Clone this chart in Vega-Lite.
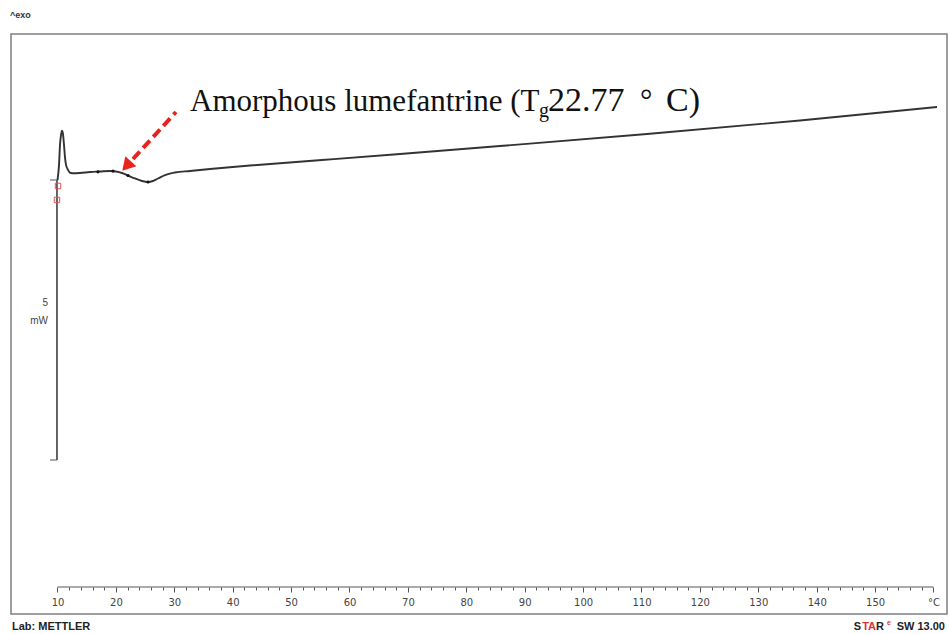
{
  "$schema": "https://vega.github.io/schema/vega-lite/v6.json",
  "width": 936,
  "height": 580,
  "autosize": {"type": "none"},
  "padding": {"left": 11, "top": 34, "right": 2, "bottom": 20},
  "background": "white",
  "config": {
    "view": {"stroke": "#808080", "strokeWidth": 1.5}
  },
  "encoding": {
    "x": {
      "field": "T", "type": "quantitative", "title": null,
      "scale": {"domain": [2.0377, 162.312], "nice": false, "zero": false},
      "axis": {
        "orient": "bottom", "offset": -27,
        "values": [10,12,14,16,18,20,22,24,26,28,30,32,34,36,38,40,42,44,46,48,50,52,54,56,58,60,62,64,66,68,70,72,74,76,78,80,82,84,86,88,90,92,94,96,98,100,102,104,106,108,110,112,114,116,118,120,122,124,126,128,130,132,134,136,138,140,142,144,146,148,150,152,154,156,158,160],
        "domain": false, "grid": false,
        "tickColor": "#555", "tickWidth": 1,
        "tickSize": {"condition": {"test": "datum.value % 10 === 0", "value": 5}, "value": 3},
        "labelExpr": "datum.value === 160 ? '°C' : (datum.value % 10 === 0 ? datum.label : '')",
        "labelFont": "DejaVu Sans", "labelFontSize": 10, "labelColor": "#444",
        "labelPadding": 5, "labelFlush": false, "labelOverlap": false
      }
    },
    "y": {
      "field": "mW", "type": "quantitative", "title": null,
      "scale": {"domain": [0, 10.357], "nice": false, "zero": false},
      "axis": null
    }
  },
  "layer": [
    {
      "data": {"values": [{"T": 10, "T2": 160, "mW": 0.4821}]},
      "mark": {"type": "rule", "color": "#555", "strokeWidth": 1},
      "encoding": {"x2": {"field": "T2"}}
    },
    {
      "data": {"values": [{"T": 9.91, "mW": 2.75, "mW2": 7.75}]},
      "mark": {"type": "rule", "color": "#333", "strokeWidth": 1.5},
      "encoding": {"y2": {"field": "mW2"}}
    },
    {
      "data": {"values": [{"T": 8.72, "T2": 9.91, "mW": 7.75}, {"T": 8.72, "T2": 9.91, "mW": 2.75}]},
      "mark": {"type": "rule", "color": "#555", "strokeWidth": 1},
      "encoding": {"x2": {"field": "T2"}}
    },
    {
      "data": {"values": [
        {"T": 10.0, "mW": 7.75},
        {"T": 10.26, "mW": 8.02},
        {"T": 10.43, "mW": 8.38},
        {"T": 10.6, "mW": 8.55},
        {"T": 10.77, "mW": 8.63},
        {"T": 10.94, "mW": 8.57},
        {"T": 11.11, "mW": 8.38},
        {"T": 11.28, "mW": 8.16},
        {"T": 11.46, "mW": 8.02},
        {"T": 11.8, "mW": 7.93},
        {"T": 12.14, "mW": 7.88},
        {"T": 12.83, "mW": 7.87},
        {"T": 13.85, "mW": 7.875},
        {"T": 15.57, "mW": 7.893},
        {"T": 17.28, "mW": 7.902},
        {"T": 18.99, "mW": 7.911},
        {"T": 20.02, "mW": 7.902},
        {"T": 21.05, "mW": 7.875},
        {"T": 22.07, "mW": 7.83},
        {"T": 23.27, "mW": 7.777},
        {"T": 24.47, "mW": 7.732},
        {"T": 25.5, "mW": 7.714},
        {"T": 26.35, "mW": 7.732},
        {"T": 27.21, "mW": 7.777},
        {"T": 28.41, "mW": 7.839},
        {"T": 30.12, "mW": 7.884},
        {"T": 32.69, "mW": 7.911},
        {"T": 36.11, "mW": 7.946},
        {"T": 42.96, "mW": 8.009},
        {"T": 55.29, "mW": 8.107},
        {"T": 68.65, "mW": 8.214},
        {"T": 85.77, "mW": 8.357},
        {"T": 110.94, "mW": 8.571},
        {"T": 137.14, "mW": 8.813},
        {"T": 160.6, "mW": 9.054}
      ]},
      "mark": {"type": "line", "color": "#333333", "strokeWidth": 1.9, "interpolate": "monotone"},
      "encoding": {}
    },
    {
      "data": {"values": [{"T": 16.93, "mW": 7.895}, {"T": 19.5, "mW": 7.91}, {"T": 22.07, "mW": 7.83}, {"T": 25.5, "mW": 7.714}]},
      "mark": {"type": "point", "shape": "circle", "filled": true, "color": "#111", "size": 10, "opacity": 1},
      "encoding": {}
    },
    {
      "data": {"values": [{"T": 10.09, "mW": 7.643}, {"T": 9.91, "mW": 7.393}]},
      "mark": {"type": "point", "shape": "square", "filled": false, "color": "#e05050", "size": 30, "strokeWidth": 1, "opacity": 1},
      "encoding": {}
    },
    {
      "data": {"values": [{"T": 30.29, "mW": 8.964}, {"T": 22.93, "mW": 8.125}]},
      "mark": {"type": "line", "color": "#e8231e", "strokeWidth": 4, "strokeDash": [10, 5], "strokeCap": "butt"},
      "encoding": {}
    },
    {
      "data": {"values": [{"T": 22.07, "mW": 8.027}]},
      "mark": {"type": "point", "shape": "triangle", "filled": true, "color": "#e8231e", "size": 220, "angle": 222, "opacity": 1},
      "encoding": {}
    },
    {
      "data": {"values": [{"T": 32.69, "mW": 8.982, "label": "Amorphous lumefantrine (T"}]},
      "mark": {"type": "text", "align": "left", "baseline": "alphabetic", "font": "Liberation Serif", "fontSize": 31, "color": "#111"},
      "encoding": {"text": {"field": "label"}}
    },
    {
      "data": {"values": [{"T": 92.45, "mW": 8.875, "label": "g"}]},
      "mark": {"type": "text", "align": "left", "baseline": "alphabetic", "font": "Liberation Serif", "fontSize": 20, "color": "#111"},
      "encoding": {"text": {"field": "label"}}
    },
    {
      "data": {"values": [{"T": 93.99, "mW": 8.982, "label": "22.77"}]},
      "mark": {"type": "text", "align": "left", "baseline": "alphabetic", "font": "Liberation Serif", "fontSize": 34, "color": "#111"},
      "encoding": {"text": {"field": "label"}}
    },
    {
      "data": {"values": [{"T": 109.74, "mW": 8.982, "label": "°"}]},
      "mark": {"type": "text", "align": "left", "baseline": "alphabetic", "font": "Liberation Serif", "fontSize": 31, "color": "#111"},
      "encoding": {"text": {"field": "label"}}
    },
    {
      "data": {"values": [{"T": 114.19, "mW": 8.982, "label": "C)"}]},
      "mark": {"type": "text", "align": "left", "baseline": "alphabetic", "font": "Liberation Serif", "fontSize": 34, "color": "#111"},
      "encoding": {"text": {"field": "label"}}
    },
    {
      "data": {"values": [{"T": 8.37, "mW": 5.554, "label": "5"}, {"T": 8.37, "mW": 5.232, "label": "mW"}]},
      "mark": {"type": "text", "align": "right", "baseline": "middle", "font": "Liberation Sans", "fontSize": 10, "color": "#444"},
      "encoding": {"text": {"field": "label"}}
    },
    {
      "data": {"values": [{"T": 1.87, "mW": 10.696, "label": "^exo"}]},
      "mark": {"type": "text", "align": "left", "baseline": "middle", "font": "Liberation Sans", "fontSize": 9, "fontWeight": "bold", "color": "#333"},
      "encoding": {"text": {"field": "label"}}
    },
    {
      "data": {"values": [{"T": 2.21, "mW": -0.232, "label": "Lab: METTLER"}]},
      "mark": {"type": "text", "align": "left", "baseline": "middle", "font": "Liberation Sans", "fontSize": 11, "fontWeight": "bold", "color": "#222"},
      "encoding": {"text": {"field": "label"}}
    },
    {
      "data": {"values": [{"T": 161.97, "mW": -0.232, "label": "SW 13.00"}]},
      "mark": {"type": "text", "align": "right", "baseline": "middle", "font": "Liberation Sans", "fontSize": 11, "fontWeight": "bold", "color": "#222"},
      "encoding": {"text": {"field": "label"}}
    },
    {
      "data": {"values": [{"T": 161.97, "mW": -0.232, "label": "e"}]},
      "mark": {"type": "text", "align": "right", "baseline": "middle", "font": "Liberation Sans", "fontSize": 7, "fontWeight": "bold", "color": "#e03030", "dx": -54, "dy": -4},
      "encoding": {"text": {"field": "label"}}
    },
    {
      "data": {"values": [{"T": 161.97, "mW": -0.232, "label": "R"}]},
      "mark": {"type": "text", "align": "right", "baseline": "middle", "font": "Liberation Sans", "fontSize": 11, "fontWeight": "bold", "color": "#222", "dx": -61},
      "encoding": {"text": {"field": "label"}}
    },
    {
      "data": {"values": [{"T": 161.97, "mW": -0.232, "label": "TA"}]},
      "mark": {"type": "text", "align": "right", "baseline": "middle", "font": "Liberation Sans", "fontSize": 11, "fontWeight": "bold", "color": "#e03030", "dx": -69},
      "encoding": {"text": {"field": "label"}}
    },
    {
      "data": {"values": [{"T": 161.97, "mW": -0.232, "label": "S"}]},
      "mark": {"type": "text", "align": "right", "baseline": "middle", "font": "Liberation Sans", "fontSize": 11, "fontWeight": "bold", "color": "#222", "dx": -84},
      "encoding": {"text": {"field": "label"}}
    }
  ]
}
